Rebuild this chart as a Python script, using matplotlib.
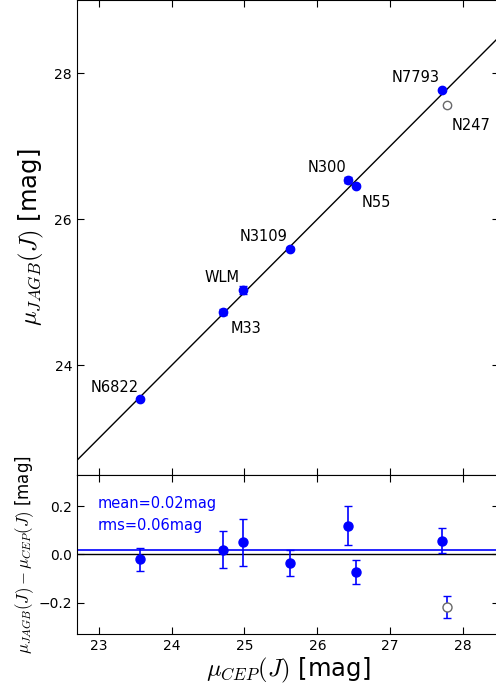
import numpy as np
import matplotlib.pyplot as plt

plt.rcParams['mathtext.fontset'] = 'cm'
plt.rcParams['xtick.direction'] = 'in'
plt.rcParams['ytick.direction'] = 'in'
plt.rcParams['xtick.top'] = True
plt.rcParams['ytick.right'] = True
plt.rcParams['xtick.major.size'] = 5
plt.rcParams['ytick.major.size'] = 5

# galaxies with both JAGB and Cepheid distances
names = ["N6822", "M33", "WLM", "N3109", "N300", "N55", "N7793"]
mu_cep = np.array([23.56, 24.71, 24.98, 25.63, 26.42, 26.53, 27.71])
dmu = np.array([-0.02, 0.02, 0.05, -0.036, 0.12, -0.072, 0.058])
err_jagb = np.array([0.02, 0.04, 0.05, 0.02, 0.04, 0.02, 0.02])
err_diff = np.array([0.047, 0.077, 0.098, 0.053, 0.08, 0.05, 0.05])

# NGC 247 kept out of the mean
out_name = "N247"
out_cep = 27.78
out_dmu = -0.218
out_err_jagb = 0.02
out_err_diff = 0.045

mean_off = 0.02
rms = 0.06

mu_jagb = mu_cep + dmu
out_jagb = out_cep + out_dmu

# label offsets in points
offsets = {
    "N6822": (-18, 8), "M33": (16, -12), "WLM": (-15, 9), "N3109": (-19, 9),
    "N300": (-15, 9), "N55": (15, -12), "N7793": (-19, 9), "N247": (17, -15),
}

fig = plt.figure(figsize=(4.96, 6.92), dpi=100)
ax1 = fig.add_axes([0.155, 0.3136, 0.852, 0.6864])
ax2 = fig.add_axes([0.155, 0.0838, 0.852, 0.2298], sharex=ax1)

xx = np.array([22.7, 28.5])
ax1.plot(xx, xx, color="black", lw=1)
ax1.errorbar(mu_cep, mu_jagb, yerr=err_jagb, fmt="o", color="blue", mec="blue",
             ms=6, capsize=3, elinewidth=1.2)
ax1.errorbar(out_cep, out_jagb, yerr=out_err_jagb, fmt="o", color="blue",
             mfc="white", mec="dimgray", ms=6, capsize=3, elinewidth=1.2)
for n, x, y in zip(names + [out_name], list(mu_cep) + [out_cep], list(mu_jagb) + [out_jagb]):
    ax1.annotate(n, (x, y), xytext=offsets[n], textcoords="offset points",
                 ha="center", va="center", fontsize=10.5)
ax1.set_xlim(22.7, 28.5)
ax1.set_ylim(22.5, 29.0)
ax1.set_yticks([24, 26, 28])
ax1.tick_params(labelbottom=False, labelsize=10)
ax1.set_ylabel(r"$\mu_{JAGB}(J)$ [mag]", fontsize=17.5, labelpad=6)

ax2.axhline(0.0, color="black", lw=1)
ax2.axhline(mean_off, color="blue", lw=1.2)
ax2.errorbar(mu_cep, dmu, yerr=err_diff, fmt="o", color="blue", mec="blue",
             ms=6.5, capsize=3, elinewidth=1.2)
ax2.errorbar(out_cep, out_dmu, yerr=out_err_diff, fmt="o", color="blue",
             mfc="white", mec="dimgray", ms=6.5, capsize=3, elinewidth=1.2)
ax2.text(0.05, 0.82, "mean=%.2fmag" % mean_off, transform=ax2.transAxes,
         color="blue", fontsize=10.5, va="center")
ax2.text(0.05, 0.68, "rms=%.2fmag" % rms, transform=ax2.transAxes,
         color="blue", fontsize=10.5, va="center")
ax2.set_ylim(-0.33, 0.33)
ax2.set_yticks([-0.2, 0.0, 0.2])
ax2.set_xticks([23, 24, 25, 26, 27, 28])
ax2.tick_params(labelsize=10)
ax2.set_xlabel(r"$\mu_{CEP}(J)$ [mag]", fontsize=17.5, labelpad=2)
ax2.set_ylabel(r"$\mu_{JAGB}(J)-\mu_{CEP}(J)$ [mag]", fontsize=12, labelpad=2)

fig.savefig("out.png", dpi=100)
